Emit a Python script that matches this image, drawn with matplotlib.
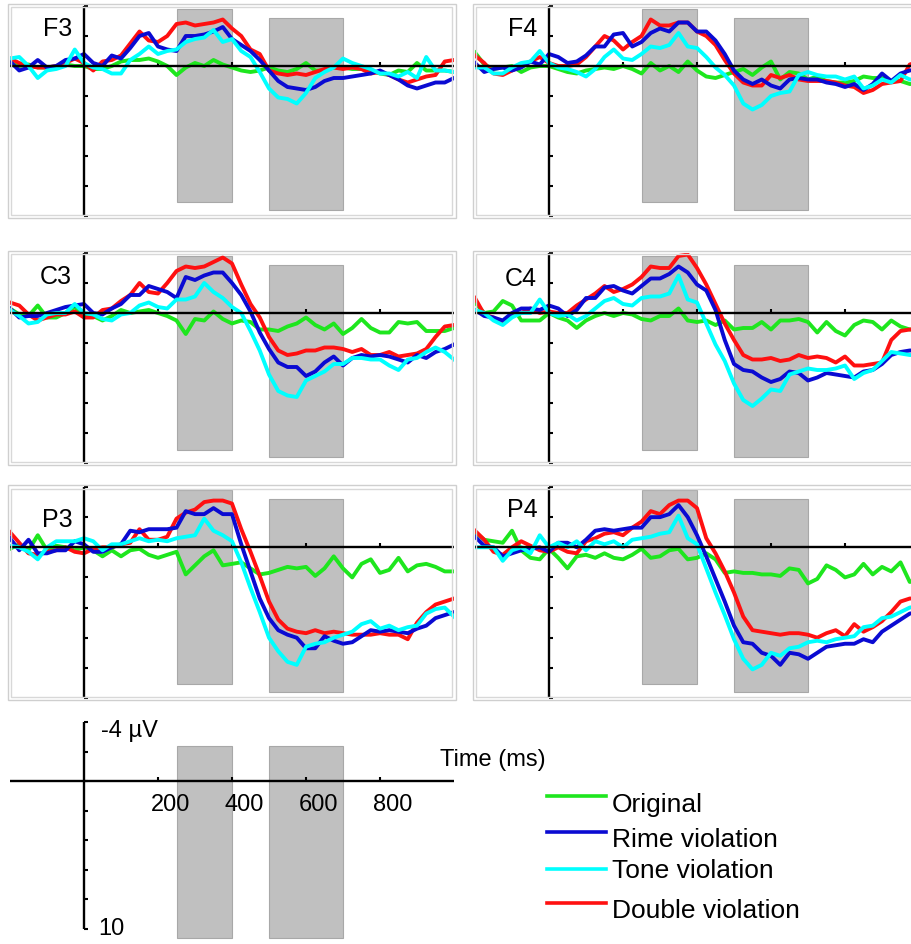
import matplotlib
matplotlib.use('Agg')
import matplotlib.pyplot as plt
from matplotlib.patches import Rectangle
from matplotlib.lines import Line2D

plt.rcParams['font.family'] = ['Liberation Sans', 'DejaVu Sans']

# ---- data (µV, negative up), sampled every 25 ms from -200 to 1000 ms ----
times = list(range(-200, 1001, 25))
conditions = ['Original', 'Rime violation', 'Tone violation', 'Double violation']
colors = ['#1ee61e', '#0a0ad2', '#00ffff', '#ff1010']
windows = [(250, 400), (500, 700)]

F3_original = [-0.2, 0.0, -0.1, 0.1, 0.1, 0.1, -0.1, 0.0, 0.0, 0.2, 0.2, 0.0, -0.3, -0.4, -0.4, -0.5, -0.3, 0.0, 0.6, 0.1,
               -0.2, 0.0, -0.4, -0.1, 0.1, 0.3, 0.4, 0.3, 0.1, 0.3, 0.4, 0.2, -0.2, 0.3, 0.3, 0.1, 0.1, 0.2, 0.2, 0.3,
               0.5, 0.6, 0.3, 0.4, -0.2, 0.3, 0.3, 0.3, 0.4]
F3_rime = [-0.3, 0.3, 0.1, -0.4, 0.1, 0.0, -0.4, -0.5, -0.8, -0.2, 0.0, -0.7, -0.5, -1.2, -2.0, -2.2, -1.3, -1.1, -1.0, -2.0,
           -2.0, -2.1, -2.3, -2.6, -1.8, -1.4, -1.0, -0.4, 0.3, 1.0, 1.4, 1.5, 1.6, 1.4, 1.0, 0.8, 0.8, 0.7, 0.6, 0.5,
           0.3, 0.6, 0.9, 1.3, 1.5, 1.3, 1.1, 1.1, 0.8]
F3_tone = [-0.5, -0.6, 0.0, 0.8, 0.3, 0.2, 0.0, -1.1, -0.2, 0.1, 0.2, 0.5, 0.5, -0.4, -0.8, -1.3, -0.8, -1.0, -1.1, -1.6,
           -1.8, -1.9, -2.4, -1.6, -1.8, -1.0, -0.6, 0.4, 1.5, 2.1, 2.2, 2.5, 1.8, 0.8, 0.4, 0.1, -0.5, -0.2, 0.0, 0.2,
           0.5, 0.5, 0.7, 0.4, 0.8, -0.6, 0.3, 0.3, 0.4]
F3_double = [-0.5, -0.2, 0.0, 0.1, 0.1, 0.0, -0.2, -0.5, -0.2, 0.3, -0.3, -0.4, -0.7, -1.5, -2.3, -1.7, -1.6, -2.0, -2.8, -2.9,
             -2.7, -2.8, -2.9, -3.1, -2.5, -2.0, -1.1, -0.8, 0.3, 0.5, 0.6, 0.5, 0.6, 0.4, 0.2, 0.1, 0.2, 0.1, 0.2, 0.5,
             0.4, 0.6, 0.9, 1.1, 0.9, 0.7, 0.6, -0.3, -0.4]

F4_original = [-0.9, -0.1, 0.2, 0.1, 0.0, 0.4, 0.1, 0.0, 0.0, 0.2, 0.4, 0.5, 0.3, 0.2, 0.1, 0.2, 0.0, 0.2, 0.5, -0.2,
               0.3, 0.0, 0.4, -0.3, 0.3, 0.7, 0.8, 0.6, 0.4, 0.2, 0.6, 0.1, -0.3, 0.9, 0.4, 0.5, 0.9, 0.7, 1.0, 1.1,
               1.1, 1.0, 0.7, 0.8, 0.8, 1.0, 1.0, 1.2, 1.2]
F4_rime = [-0.2, 0.4, 0.2, 0.1, 0.3, 0.1, -0.3, -0.1, -0.8, -0.6, -0.2, -0.3, -0.7, -1.3, -1.3, -2.1, -2.2, -1.3, -1.6, -2.2,
           -2.5, -2.3, -2.9, -2.9, -2.3, -2.3, -1.7, -0.8, 0.3, 0.9, 1.2, 0.9, 1.3, 1.5, 0.9, 0.8, 0.9, 0.9, 1.1, 1.2,
           1.4, 1.2, 1.6, 1.2, 0.5, 1.0, 0.5, 0.3, 0.2]
F4_tone = [0.1, 0.1, 0.5, 0.5, 0.1, -0.2, -0.3, -1.0, -0.2, 0.1, 0.2, 0.4, 0.7, 0.2, -0.6, -1.1, -0.5, -0.4, -0.8, -1.3,
           -1.2, -1.4, -2.2, -1.3, -1.2, -0.6, 0.1, 0.6, 1.3, 2.5, 2.9, 2.6, 2.0, 1.8, 1.7, 0.6, 0.4, 0.6, 0.7, 0.7,
           0.9, 0.7, 1.5, 1.3, 0.9, 1.1, 0.6, 0.9, 0.9]
F4_double = [-0.7, -0.2, 0.5, 0.6, 0.3, 0.0, -0.3, -0.6, -0.2, 0.0, 0.0, -0.1, -0.6, -1.3, -2.0, -1.7, -1.1, -1.6, -2.0, -3.1,
             -2.7, -2.7, -2.9, -2.9, -2.3, -2.0, -1.4, -0.4, 0.5, 1.1, 1.3, 1.3, 0.6, 0.8, 0.6, 0.9, 1.0, 1.0, 1.0, 1.1,
             1.3, 1.4, 1.8, 1.6, 1.2, 1.1, 1.0, -0.1, -0.3]

C3_original = [-0.3, 0.1, 0.2, -0.5, 0.3, 0.3, 0.0, -0.4, 0.2, 0.2, 0.5, 0.2, -0.2, 0.0, -0.1, -0.2, 0.0, 0.2, 0.5, 1.4,
               0.4, 0.5, -0.1, 0.4, 0.7, 0.5, 0.6, 1.1, 1.1, 1.2, 0.9, 0.7, 0.3, 0.8, 1.1, 0.7, 1.4, 1.0, 0.4, 1.0,
               1.3, 1.3, 0.6, 0.7, 0.6, 1.2, 1.2, 1.2, 1.0]
C3_rime = [-0.3, 0.3, 0.2, 0.2, 0.0, -0.2, -0.4, -0.5, -0.6, 0.0, 0.1, -0.3, -0.6, -1.2, -1.2, -1.8, -1.6, -1.4, -1.0, -2.4,
           -2.2, -2.5, -2.7, -2.7, -2.0, -1.2, -0.1, 1.3, 2.4, 3.3, 3.6, 3.6, 4.2, 3.9, 3.3, 2.9, 3.5, 3.0, 2.8, 2.9,
           2.8, 2.9, 3.1, 3.3, 2.8, 3.0, 2.6, 2.4, 2.1]
C3_tone = [-0.2, 0.2, 0.7, 0.6, 0.1, 0.0, 0.0, -0.6, 0.0, 0.1, 0.4, 0.5, 0.1, 0.0, -0.5, -0.7, -0.4, -0.3, -0.9, -0.9,
           -1.1, -2.0, -1.4, -1.0, -0.4, 0.0, 1.2, 2.5, 4.1, 5.2, 5.5, 5.6, 4.5, 4.2, 3.9, 3.4, 3.4, 3.0, 3.0, 3.1,
           3.1, 3.5, 3.8, 3.1, 3.0, 2.6, 2.3, 2.6, 3.1]
C3_double = [-0.7, -0.5, 0.1, 0.5, 0.3, 0.1, 0.1, -0.1, 0.3, 0.3, -0.2, -0.3, -0.8, -1.2, -2.0, -1.4, -1.3, -2.0, -2.8, -3.1,
             -3.0, -3.1, -3.4, -3.7, -3.3, -1.9, -0.6, 0.3, 1.6, 2.5, 2.8, 2.7, 2.5, 2.5, 2.3, 2.3, 2.4, 2.6, 2.4, 2.8,
             2.8, 2.6, 2.9, 2.8, 2.7, 2.4, 1.6, 0.9, 0.8]

C4_original = [-0.7, 0.0, -0.1, -0.8, -0.5, 0.5, 0.5, 0.5, 0.0, 0.3, 0.5, 1.0, 0.5, 0.2, 0.0, 0.2, 0.0, 0.1, 0.4, 0.5,
               0.2, 0.2, -0.3, 0.5, 0.6, 0.5, 0.8, 0.5, 1.1, 1.0, 1.0, 0.6, 1.1, 0.5, 0.5, 0.4, 0.6, 1.3, 0.6, 1.2,
               1.5, 0.8, 0.5, 0.6, 1.1, 0.5, 0.9, 1.1, 1.1]
C4_rime = [-0.2, 0.2, 0.3, 0.5, 0.0, -0.3, -0.3, -0.2, -0.5, -0.3, 0.2, -0.2, -1.0, -1.0, -1.7, -1.8, -1.5, -1.3, -1.8, -2.3,
           -2.3, -2.6, -3.1, -2.7, -1.9, -1.5, -0.2, 1.8, 3.4, 3.8, 3.9, 4.3, 4.6, 4.4, 3.9, 4.0, 4.5, 4.3, 4.0, 4.1,
           4.2, 4.3, 3.9, 3.8, 3.4, 2.8, 2.6, 2.5, 2.5]
C4_tone = [-0.2, 0.0, 0.5, 0.8, 0.3, 0.0, 0.0, -0.9, 0.0, 0.2, 0.1, 0.5, 0.2, -0.3, -0.8, -1.0, -0.6, -0.5, -1.0, -1.1,
           -1.1, -1.3, -2.5, -0.9, -0.7, 0.7, 2.1, 3.2, 4.7, 5.8, 6.2, 5.7, 5.1, 5.2, 4.1, 3.9, 3.7, 3.8, 3.8, 3.7,
           3.5, 4.4, 4.0, 3.8, 3.2, 2.6, 2.7, 2.8, 2.8]
C4_double = [-1.0, 0.1, 0.3, 0.7, 0.2, 0.0, -0.3, 0.0, -0.1, 0.0, 0.0, -0.5, -0.9, -1.3, -1.8, -1.4, -1.6, -1.9, -2.4, -3.1,
             -3.0, -3.0, -3.8, -3.9, -3.0, -1.9, -0.6, 0.7, 1.8, 2.8, 3.1, 3.1, 3.0, 3.2, 3.1, 2.8, 3.0, 2.9, 3.0, 3.3,
             2.9, 3.5, 3.5, 3.4, 3.3, 1.8, 1.2, 1.1, 1.1]

P3_original = [0.1, -0.2, 0.2, -0.8, 0.2, -0.1, 0.0, 0.2, 0.0, 0.2, 0.6, 0.2, 0.6, 0.2, 0.1, 0.5, 0.7, 0.5, 0.3, 1.8,
               1.2, 0.6, 0.2, 1.2, 1.1, 1.0, 1.4, 1.8, 1.7, 1.5, 1.3, 1.4, 1.3, 1.9, 1.4, 0.6, 1.4, 2.0, 1.1, 0.8,
               1.7, 1.5, 0.7, 1.6, 1.2, 1.1, 1.3, 1.6, 1.6]
P3_rime = [-0.6, 0.2, -0.5, 0.4, 0.4, 0.2, 0.2, -0.4, -0.2, 0.3, 0.3, 0.0, -0.2, -1.1, -1.0, -1.2, -1.2, -1.2, -1.3, -2.4,
           -2.2, -2.2, -2.6, -2.2, -2.2, -0.2, 1.6, 3.4, 4.7, 5.5, 5.8, 6.0, 6.7, 6.7, 5.9, 6.2, 6.4, 6.3, 5.9, 5.5,
           5.6, 5.5, 5.6, 5.7, 5.4, 5.2, 4.7, 4.5, 4.3]
P3_tone = [-0.1, 0.0, 0.3, 0.8, 0.0, -0.4, -0.4, -0.4, -0.6, -0.4, 0.2, -0.2, -0.2, -0.4, -0.6, -0.4, -0.5, -0.4, -0.6, -0.7,
           -0.8, -1.9, -1.1, -0.8, -0.4, 1.0, 2.7, 4.3, 6.0, 6.9, 7.6, 7.8, 6.6, 6.4, 6.3, 6.0, 5.8, 5.6, 5.1, 4.9,
           5.4, 5.2, 5.5, 5.3, 5.2, 4.4, 4.1, 4.0, 4.6]
P3_double = [-1.0, -0.3, 0.4, 0.5, 0.3, 0.2, 0.0, 0.3, 0.4, 0.1, 0.0, 0.0, -0.2, -0.3, -1.2, -0.5, -0.5, -0.7, -1.9, -2.3,
             -2.5, -3.0, -3.1, -3.1, -2.9, -1.2, 0.3, 1.9, 3.6, 4.8, 5.4, 5.6, 5.7, 5.5, 5.7, 5.6, 5.7, 5.8, 5.8, 5.8,
             5.7, 5.8, 5.8, 6.1, 5.0, 4.3, 3.8, 3.6, 3.4]

P4_original = [-1.0, -0.5, -0.4, -0.3, -1.1, 0.2, 0.7, 0.8, 0.1, 0.7, 1.4, 0.6, 0.5, 0.7, 0.4, 0.7, 0.8, 0.5, 0.1, 0.7,
               0.6, 0.2, 0.1, 0.8, 0.7, 0.4, 0.8, 1.7, 1.6, 1.7, 1.7, 1.8, 1.8, 1.9, 1.4, 1.5, 2.4, 2.1, 1.2, 1.5,
               2.0, 1.8, 1.1, 1.8, 1.3, 1.6, 1.0, 2.3, 2.2]
P4_rime = [-0.7, -0.1, 0.0, 0.6, 0.4, 0.2, 0.1, 0.0, 0.3, -0.3, -0.3, 0.0, -0.5, -1.1, -1.2, -1.1, -1.2, -1.3, -1.3, -2.0,
           -2.0, -2.2, -2.8, -2.0, -0.8, 0.6, 2.1, 3.6, 5.2, 6.3, 6.4, 7.0, 7.2, 7.8, 7.0, 7.1, 7.4, 7.0, 6.6, 6.5,
           6.4, 6.4, 6.1, 6.3, 5.6, 5.2, 4.8, 4.4, 4.3]
P4_tone = [0.0, 0.0, 0.0, 0.9, 0.2, 0.0, 0.4, -0.8, 0.0, -0.3, 0.0, -0.4, 0.2, -0.4, -0.2, -0.4, 0.0, -0.5, -0.6, -0.7,
           -0.9, -1.0, -2.1, -0.6, -0.2, 1.4, 3.0, 4.5, 6.1, 7.4, 8.1, 7.8, 7.0, 7.2, 6.7, 6.6, 6.3, 6.2, 6.3, 6.1,
           6.0, 5.9, 5.3, 5.2, 4.7, 4.6, 4.3, 4.0, 3.9]
P4_double = [-1.1, -0.5, 0.3, 0.5, 0.0, -0.4, -0.1, 0.2, 0.3, 0.0, 0.3, 0.4, -0.4, -0.6, -0.9, -1.0, -0.8, -1.3, -1.7, -2.4,
             -2.2, -2.8, -3.1, -3.1, -2.6, -0.6, 0.4, 1.6, 3.0, 4.6, 5.5, 5.6, 5.7, 5.8, 5.7, 5.7, 5.8, 6.0, 5.7, 5.5,
             5.9, 5.1, 5.6, 5.3, 4.9, 4.3, 3.6, 3.4, 3.4]

panels = {
    'F3': [F3_original, F3_rime, F3_tone, F3_double],
    'F4': [F4_original, F4_rime, F4_tone, F4_double],
    'C3': [C3_original, C3_rime, C3_tone, C3_double],
    'C4': [C4_original, C4_rime, C4_tone, C4_double],
    'P3': [P3_original, P3_rime, P3_tone, P3_double],
    'P4': [P4_original, P4_rime, P4_tone, P4_double],
}

# ---- layout (pixels of the 912x944 figure) ----
W, H = 912, 944
col_x = {'3': 10, '4': 475}
row_y = {'F': (6, 216), 'C': (253, 463), 'P': (487, 698)}
label_y = {'F3': -2.5, 'F4': -2.5, 'C3': -2.4, 'C4': -2.3, 'P3': -1.8, 'P4': -2.5}
draw_order = [0, 3, 1, 2]


def px_rect(x0, y0, x1, y1):
    return [x0 / W, 1 - y1 / H, (x1 - x0) / W, (y1 - y0) / H]


def setup(ax):
    ax.set_xlim(-200, 1000)
    ax.set_ylim(10, -4)
    ax.patch.set_alpha(0)
    ax.spines['top'].set_visible(False)
    ax.spines['right'].set_visible(False)
    ax.spines['left'].set_position(('data', 0))
    ax.spines['bottom'].set_position(('data', 0))
    for s in ['left', 'bottom']:
        ax.spines[s].set_linewidth(1.7)
        ax.spines[s].set_capstyle('butt')
    ax.set_yticks(range(-4, 11, 2))
    ax.set_xticks([200, 400, 600, 800])
    ax.tick_params(direction='in', length=3, width=1.5, labelleft=False, labelbottom=False)


def shade(ax, extents):
    for (t0, t1), (v0, v1) in zip(windows, extents):
        ax.add_patch(Rectangle((t0, v0), t1 - t0, v1 - v0, facecolor='#c0c0c0',
                               edgecolor='#a8a8a8', lw=0.8, zorder=1, clip_on=False))


fig = plt.figure(figsize=(W / 100, H / 100), dpi=100)

for name, series in panels.items():
    x0 = col_x[name[1]]
    y0, y1 = row_y[name[0]]
    ax = fig.add_axes(px_rect(x0, y0, x0 + 444, y1))
    setup(ax)
    # double grey frame
    for d, c in [(-2, '#cfcfcf'), (1.5, '#d8d8d8')]:
        fig.add_artist(Rectangle(((x0 + d) / W, 1 - (y1 - d) / H), (444 - 2 * d) / W, (y1 - y0 - 2 * d) / H,
                                 transform=fig.transFigure, fill=False, ec=c, lw=1.0))
    shade(ax, [(-3.8, 9.1), (-3.2, 9.6)])
    for i in draw_order:
        ax.plot(times, series[i], color=colors[i], lw=2.8, zorder=2, solid_joinstyle='round')
    ax.text(-32, label_y[name], name, ha='right', va='center', fontsize=18)

# key axis
kax = fig.add_axes(px_rect(10, 722, 454, 929))
setup(kax)
shade(kax, [(-2.4, 10.6), (-2.4, 10.6)])
kax.text(46, -3.4, '-4 µV', ha='left', va='center', fontsize=17)
kax.text(38, 10.0, '10', ha='left', va='center', fontsize=17)
for t in [200, 400, 600, 800]:
    kax.text(t + 33, 1.6, str(t), ha='center', va='center', fontsize=17)
fig.text(440 / W, 1 - 760 / H, 'Time (ms)', ha='left', va='center', fontsize=17)

# legend
line_y = [796, 832, 869, 903]
text_y = [812, 847, 878, 918]
for i, label in enumerate(conditions):
    fig.add_artist(Line2D([547 / W, 606 / W], [1 - line_y[i] / H] * 2, transform=fig.transFigure,
                          color=colors[i], lw=2.6))
    fig.text(612 / W, 1 - text_y[i] / H, label, ha='left', va='baseline', fontsize=19)

plt.savefig('out.png', dpi=100)
